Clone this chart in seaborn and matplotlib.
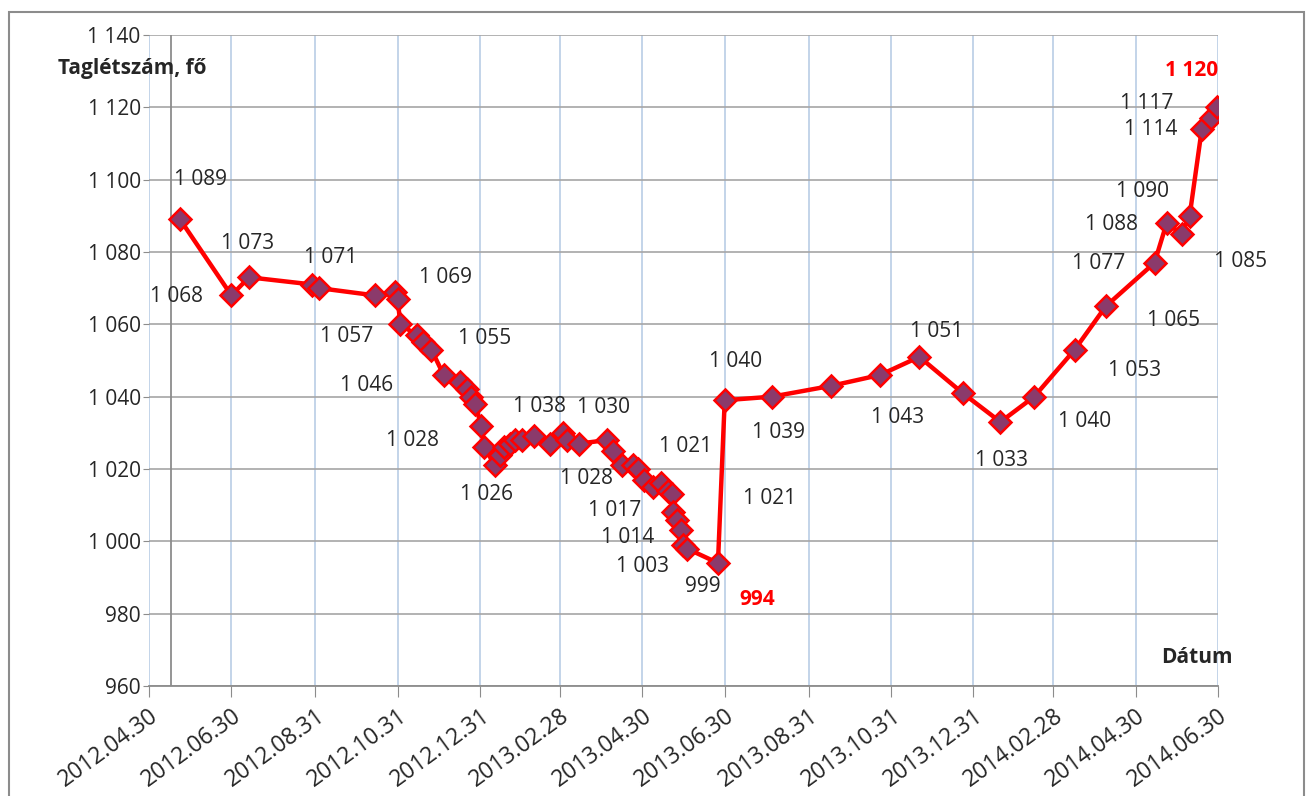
import matplotlib.pyplot as plt
import matplotlib.ticker as mticker
from matplotlib.patches import Rectangle
import pandas as pd
import seaborn as sns

dates = [
    '2012-05-23', '2012-06-30', '2012-07-13', '2012-08-29', '2012-09-03',
    '2012-10-14', '2012-10-29', '2012-10-31', '2012-11-02', '2012-11-14',
    '2012-11-19', '2012-11-25', '2012-12-04', '2012-12-16', '2012-12-21',
    '2012-12-24', '2012-12-27', '2013-01-01', '2013-01-03', '2013-01-11',
    '2013-01-15', '2013-01-18', '2013-01-22', '2013-01-26', '2013-01-31',
    '2013-02-09', '2013-02-21', '2013-03-02', '2013-03-05', '2013-03-14',
    '2013-04-04', '2013-04-08', '2013-04-15', '2013-04-23', '2013-04-27',
    '2013-05-01', '2013-05-08', '2013-05-14', '2013-05-19', '2013-05-22',
    '2013-05-23', '2013-05-26', '2013-05-29', '2013-05-30', '2013-06-02',
    '2013-06-25', '2013-06-30', '2013-08-04', '2013-09-17', '2013-10-23',
    '2013-11-21', '2013-12-23', '2014-01-20', '2014-02-14', '2014-03-16',
    '2014-04-08', '2014-05-14', '2014-05-23', '2014-06-03', '2014-06-09',
    '2014-06-18', '2014-06-25', '2014-06-29',
]
members = [
    1089, 1068, 1073, 1071, 1070,
    1068, 1069, 1067, 1060, 1057,
    1055, 1053, 1046, 1044, 1042,
    1040, 1038, 1032, 1026, 1021,
    1024, 1026, 1027, 1028, 1028,
    1029, 1027, 1030, 1028, 1027,
    1028, 1025, 1021, 1021, 1020,
    1017, 1015, 1016, 1014, 1013,
    1008, 1006, 1003, 999, 998,
    994, 1039, 1040, 1043, 1046,
    1051, 1041, 1033, 1040, 1053,
    1065, 1077, 1088, 1085, 1090,
    1114, 1117, 1120,
]

tick_dates = [
    '2012-04-30', '2012-06-30', '2012-08-31', '2012-10-31', '2012-12-31',
    '2013-02-28', '2013-04-30', '2013-06-30', '2013-08-31', '2013-10-31',
    '2013-12-31', '2014-02-28', '2014-04-30', '2014-06-30',
]
tick_labels = [d.replace('-', '.') for d in tick_dates]

# data labels: index of the point they belong to, pixel offset of the label
label_points = [0, 1, 2, 3, 9, 6, 10, 12, 23, 16, 27, 18, 28, 32, 35, 38, 42,
                43, 45, 47, 46, 33, 48, 50, 52, 53, 54, 55, 56, 57, 59, 58,
                60, 61, 62]
label_offsets = [(20, 40), (-55, -1), (-1, 34), (18, 27), (-70, -1), (51, 14),
                 (61, 4), (-77, -11), (-103, 0), (65, -3), (41, 25), (2, -47),
                 (20, -38), (64, 19), (-29, -31), (-40, -47), (-39, -36),
                 (20, -42), (39, -36), (-36, 35), (54, -32), (137, -33),
                 (66, -32), (17, 25), (1, -39), (50, -25), (60, -21), (68, -14),
                 (-56, -1), (-55, -1), (-47, 24), (59, -28), (-51, -1),
                 (-65, 15), (-25, 37)]
highlight = [45, 62]

df = pd.DataFrame({'datum': pd.to_datetime(dates), 'letszam': members})

sns.set_style('white')
plt.rcParams['font.family'] = ['Open Sans', 'DejaVu Sans']

fig = plt.figure(figsize=(13.09, 7.96), dpi=100)
ax = fig.add_axes([0.1138, 0.1382, 0.8167, 0.8179])

ax.axvline(pd.Timestamp('2012-05-16'), color='#8C8C8C', lw=1.3, zorder=1)
sns.lineplot(x='datum', y='letszam', data=df, ax=ax, color='#FF0000', lw=3.2,
             marker='D', markersize=11.5, markerfacecolor='#8B3A6B',
             markeredgecolor='#FF0000', markeredgewidth=1.8, zorder=3)

ax.set_xlim(pd.Timestamp(tick_dates[0]), pd.Timestamp(tick_dates[-1]))
ax.set_ylim(960, 1140)
ax.set_xticks(pd.to_datetime(tick_dates))
ax.set_xticklabels(tick_labels, rotation=36, ha='right', rotation_mode='anchor',
                   fontsize=16.5, color='#262626')
ax.set_yticks(range(960, 1141, 20))
ax.yaxis.set_major_formatter(mticker.FuncFormatter(lambda v, p: f'{int(v):,}'.replace(',', ' ')))
ax.tick_params(axis='y', labelsize=15, labelcolor='#262626', length=4, color='#8C8C8C', pad=2, left=True)
ax.tick_params(axis='x', length=8, color='#8C8C8C', pad=5, bottom=True)

ax.grid(axis='x', color='#B9CDE5', lw=1.2)
ax.grid(axis='y', color='#A6A6A6', lw=1.2)
for side in ['top', 'right', 'left']:
    ax.spines[side].set_visible(False)
ax.spines['bottom'].set_color('#8C8C8C')
ax.spines['bottom'].set_linewidth(1.3)
ax.set_xlabel('')
ax.set_ylabel('')

for i, idx in enumerate(label_points):
    v = members[idx]
    txt = f'{v:,}'.replace(',', ' ')
    red = idx in highlight
    ax.annotate(txt, (pd.Timestamp(dates[idx]), v), xytext=label_offsets[i],
                textcoords='offset pixels', ha='center', va='center', fontsize=15,
                color='#FF0000' if red else '#262626',
                fontweight='bold' if red else 'normal', zorder=4)

fig.text(0.101, 0.914, 'Taglétszám, fő', ha='center', va='center', fontsize=15, fontweight='bold')
fig.text(0.9144, 0.1734, 'Dátum', ha='center', va='center', fontsize=15, fontweight='bold')

fig.add_artist(Rectangle((0.0065, -0.02), 0.99, 1.005, transform=fig.transFigure,
                         fill=False, ec='#8C8C8C', lw=1.5))

plt.savefig('out.png', dpi=100)
plt.close()
